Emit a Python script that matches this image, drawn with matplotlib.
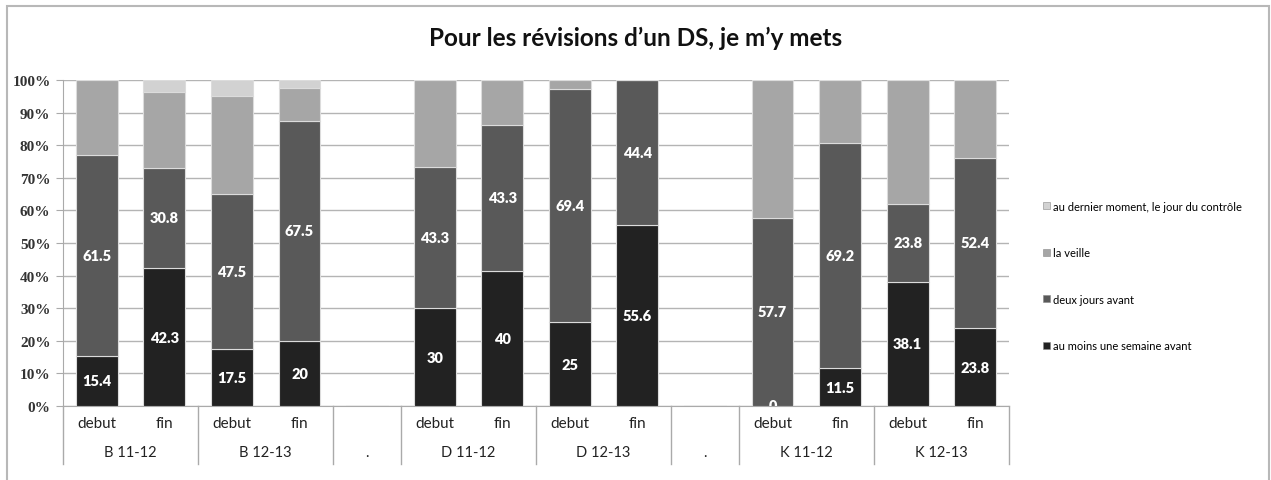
import pandas as pd
import matplotlib.pyplot as plt
import matplotlib.transforms as mtransforms
from matplotlib.patches import Rectangle, Patch

# catégories (les "." sont des colonnes vides de séparation)
groupes = ["B 11-12", "B 11-12", "B 12-13", "B 12-13", ".",
           "D 11-12", "D 11-12", "D 12-13", "D 12-13", ".",
           "K 11-12", "K 11-12", "K 12-13", "K 12-13"]
moments = ["debut", "fin", "debut", "fin", "",
           "debut", "fin", "debut", "fin", "",
           "debut", "fin", "debut", "fin"]

series = ["au moins une semaine avant", "deux jours avant", "la veille",
          "au dernier moment, le jour du contrôle"]
semaine = [15.4, 42.3, 17.5, 20, None, 30, 40, 25, 55.6, None, 0, 11.5, 38.1, 23.8]
deux_jours = [61.5, 30.8, 47.5, 67.5, None, 43.3, 43.3, 69.4, 44.4, None, 57.7, 69.2, 23.8, 52.4]
veille = [23.1, 23.1, 30, 10, None, 26.7, 13.3, 2.8, 0, None, 42.3, 19.2, 38.1, 23.8]
dernier = [0, 3.8, 5, 2.5, None, 0, 0, 0, 0, None, 0, 0, 0, 0]

couleurs = ["#222222", "#595959", "#a6a6a6", "#d2d2d2"]

df = pd.DataFrame({series[0]: semaine, series[1]: deux_jours,
                   series[2]: veille, series[3]: dernier}, dtype=float)
# graphique empilé 100 %
pct = df.div(df.sum(axis=1), axis=0) * 100

fig = plt.figure(figsize=(12.71, 4.81), dpi=100)
ax = fig.add_axes([63 / 1271, 74 / 481, 946 / 1271, 326 / 481])

x = range(len(groupes))
bottom = pd.Series(0.0, index=df.index)
for i, s in enumerate(series):
    vals = pct[s]
    ax.bar(x, vals.fillna(0), bottom=bottom, width=0.62, color=couleurs[i],
           edgecolor="#dcdcdc", linewidth=0.8, zorder=3)
    if i < 2:
        for k in df.index:
            if pd.isna(df.loc[k, s]):
                continue
            v = df.loc[k, s]
            ax.text(k, bottom[k] + vals[k] / 2, f"{v:g}", ha="center", va="center",
                    color="white", fontsize=10.5, fontweight="heavy", family="Lato",
                    zorder=4, clip_on=True)
    bottom = bottom + vals.fillna(0)

ax.set_xlim(-0.5, len(groupes) - 0.5)
ax.set_ylim(0, 100)
ax.set_yticks(range(0, 101, 10))
ax.set_yticklabels([f"{t}%" for t in range(0, 101, 10)], family="Liberation Serif",
                   fontsize=11, fontweight="bold", color="#333333")
ax.tick_params(axis="y", length=5, color="#aaaaaa", pad=4)
ax.set_xticks([])
ax.yaxis.grid(True, color="#b4b4b4", linewidth=1, zorder=0)
for sp in ["top", "right"]:
    ax.spines[sp].set_visible(False)
for sp in ["left", "bottom"]:
    ax.spines[sp].set_color("#aaaaaa")

# étiquettes de l'axe des catégories sur deux niveaux
trans = mtransforms.blended_transform_factory(ax.transData, ax.transAxes)
for k, m in enumerate(moments):
    ax.text(k, -0.052, m, transform=trans, ha="center", va="center",
            fontsize=11, family="Lato", color="#222222")
frontieres = [-0.5]
for k in range(1, len(groupes)):
    if groupes[k] != groupes[k - 1]:
        frontieres.append(k - 0.5)
frontieres.append(len(groupes) - 0.5)
for a, b in zip(frontieres[:-1], frontieres[1:]):
    ax.text((a + b) / 2, -0.14, groupes[int(a + 0.5)], transform=trans,
            ha="center", va="center", fontsize=10.5, family="Lato", color="#222222")
for f in frontieres:
    ax.plot([f, f], [0, -0.178], transform=trans, color="#aaaaaa", linewidth=1,
            clip_on=False)

fig.text(0.5, 1 - 38 / 481, "Pour les révisions d\u2019un DS, je m\u2019y mets",
         ha="center", va="center", fontsize=17.5, fontweight="bold", family="Lato",
         color="#111111")

handles = [Patch(facecolor=couleurs[i], edgecolor="#888888", linewidth=0.4)
           for i in range(len(series))][::-1]
fig.legend(handles, series[::-1], loc="center left",
           bbox_to_anchor=(1033 / 1271, 1 - 277 / 481), frameon=False,
           handlelength=0.6, handleheight=0.6, handletextpad=0.3,
           labelspacing=3.2, prop={"family": "Lato", "size": 8})

# cadre du graphique
fig.patches.append(Rectangle((7 / 1271, -0.02), 1262 / 1271, 1 - 7 / 481 + 0.02,
                             transform=fig.transFigure, fill=False,
                             edgecolor="#b8b8b8", linewidth=1.5))

plt.savefig("out.png", dpi=100)
